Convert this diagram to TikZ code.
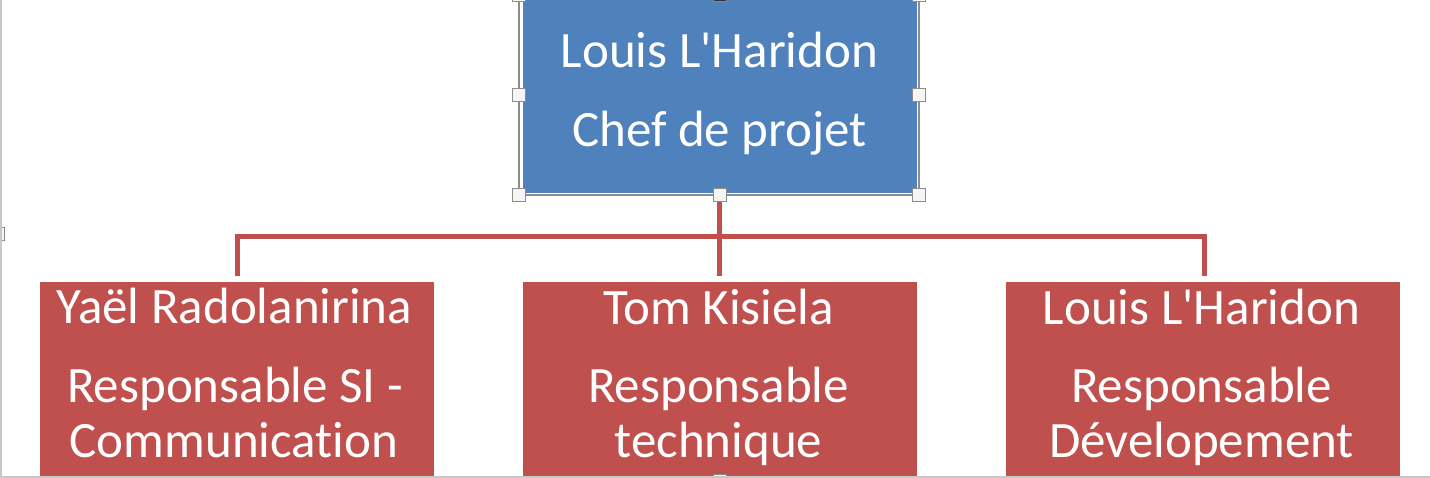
\documentclass[tikz,border=0pt]{standalone}
\usepackage{fontspec}
\newfontfamily\diagfont{Carlito}[Ligatures=NoCommon]
\definecolor{topblue}{HTML}{4F81BD}
\definecolor{boxred}{HTML}{C0504D}
\definecolor{pagegray}{HTML}{C8C8C8}
\definecolor{selgray}{HTML}{8C8C8C}
\begin{document}
\begin{tikzpicture}[x=1pt,y=-1pt,
  bluebox/.style={fill=topblue,draw=none,inner sep=0pt,outer sep=0pt,minimum width=394pt,minimum height=203pt},
  redbox/.style={fill=boxred,draw=none,inner sep=0pt,outer sep=0pt,minimum width=394pt,minimum height=200pt},
  conn/.style={draw=boxred,line width=5pt,miter limit=10},
  txt/.style={text=white,font=\diagfont\fontsize{51}{55}\selectfont,inner sep=0pt,anchor=base},
  handle/.style={draw=selgray,fill=gray!8,line width=0.9pt,minimum size=13pt,inner sep=0pt},
]
\useasboundingbox (0,0) rectangle (1430,478);
\clip (0,0) rectangle (1430,478);
\fill[white] (0,0) rectangle (1430,478);

% boxes
\node[bluebox] (top) at (719.5,91.5) {};
\node[redbox,anchor=north] (l) at (237,282) {};
\node[redbox,anchor=north] (m) at (719.5,282) {};
\node[redbox,anchor=north] (r) at (1203,282) {};

% connectors
\draw[conn,shorten >=6pt] (top.south) -- ++(0,43.5) -| (l.north);
\draw[conn,shorten >=6pt] (top.south) -- ++(0,43.5) -| ([xshift=1pt]r.north);
\draw[conn,shorten >=6pt] (top.south) -- (m.north);

% selection frame and handles
\draw[selgray,line width=1.2pt] (519,-10) rectangle (919,195);
\node[handle] (h1) at (519,95) {};
\node[handle] (h2) at (919,95) {};
\node[handle] (h3) at (519,195) {};
\node[handle] (h4) at (719.5,195) {};
\node[handle] (h5) at (919,195) {};
\node[handle] (h6) at (519,-5) {};
\node[handle,fill=black!80] (h7) at (719.5,-5) {};
\node[handle] (h8) at (919,-5) {};
\node[handle] (h9) at (-2,234) {};
\node[handle] (h10) at (719.5,481) {};

% texts
\node[txt] (t1) at (719.5,68) {Louis L'Haridon};
\node[txt] (t2) at (719.5,147) {Chef de projet};

\node[txt] (l1) at (234.5,324) {Yaël Radolanirina};
\node[txt] (l2) at (235,402) {Responsable SI -};
\node[txt] (l3) at (234,457) {Communication};

\node[txt] (m1) at (718.5,325) {Tom Kisiela};
\node[txt] (m2) at (718.5,402) {Responsable};
\node[txt] (m3) at (718.5,457) {technique};

\node[txt] (r1) at (1201.5,325) {Louis L'Haridon};
\node[txt] (r2) at (1201.5,402) {Responsable};
\node[txt] (r3) at (1201.5,457) {Dévelopement};

% page borders
\fill[pagegray] (0,0) rectangle (2,478);
\fill[pagegray] (0,476) rectangle (1430,478);
\end{tikzpicture}
\end{document}
